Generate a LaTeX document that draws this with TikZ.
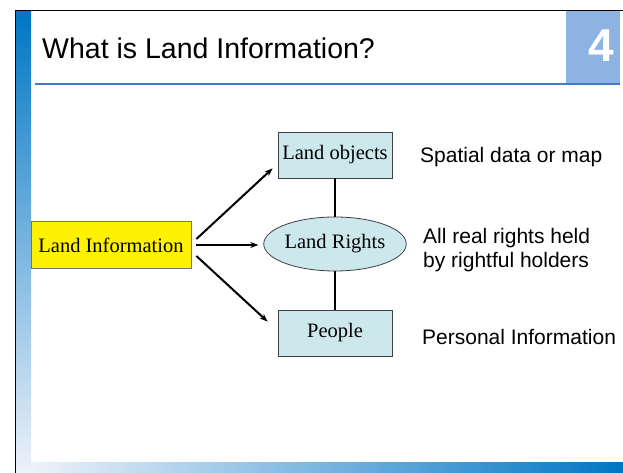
\documentclass[tikz,border=0pt]{standalone}
\usepackage{fontspec}
\setmainfont{Liberation Serif}
\setsansfont{Liberation Sans}
\usetikzlibrary{shapes.geometric,arrows.meta}
\definecolor{barblue}{RGB}{0,118,196}
\definecolor{barlight}{RGB}{238,242,250}
\definecolor{linebl}{RGB}{70,120,200}
\definecolor{numbox}{RGB}{141,179,226}
\definecolor{boxfill}{RGB}{204,232,236}
\tikzset{
  box/.style={draw=black!75, line width=0.8pt, fill=boxfill, inner sep=0pt,
    minimum width=114pt, minimum height=46pt, font=\fontsize{20.5}{24}\selectfont},
  lirbox/.style={draw=black!55, line width=0.8pt, fill=yellow, inner sep=0pt,
    minimum width=160pt, minimum height=47pt, font=\fontsize{20.5}{24}\selectfont},
  ell/.style={ellipse, draw=black!75, line width=0.8pt, fill=boxfill, inner sep=0pt,
    minimum width=124pt, minimum height=54pt, font=\fontsize{20.5}{24}\selectfont},
  sidetext/.style={anchor=west, inner sep=0pt, align=left,
    font=\sffamily\fontsize{21}{24}\selectfont},
  arr/.style={line width=2pt, -{Stealth[length=8pt,width=6pt]}},
  link/.style={line width=2pt}
}
\begin{document}
\begin{tikzpicture}[x=1pt,y=1pt]
\useasboundingbox (0,0) rectangle (623,473);
\fill[white] (0,0) rectangle (623,473);
% left gradient bar
\shade[top color=barblue, bottom color=barlight] (15.5,0) rectangle (31,461.5);
% bottom gradient bar
\shade[left color=barlight, right color=barblue] (31,0) rectangle (623,10);
% frame lines
\draw[line width=1pt, black] (15,0) -- (15,462) -- (623,462);
% number box
\fill[numbox] (566,390) rectangle (620,461.5);
\node[font=\sffamily\bfseries\fontsize{46}{46}\selectfont, text=white, inner sep=0pt] (num) at (601,427) {4};
% title
\node[anchor=base west, inner sep=0pt, font=\sffamily\fontsize{28.5}{30}\selectfont] (title) at (42,414) {What is Land Information?};
\draw[linebl, line width=1.5pt] (35,389) -- (620,389);
% diagram nodes
\node[lirbox] (li) at (111,228) {Land Information};
\node[box] (lo) at (335,318) {Land objects};
\node[ell] (lr) at (335,229) {Land Rights};
\node[box] (pe) at (335,140) {People};
% connectors
\draw[arr] ([xshift=5pt,yshift=6pt]li.east) -- ([xshift=-5pt,yshift=10pt]lo.south west);
\draw[arr] ([xshift=5pt]li.east) -- ([xshift=-5pt,yshift=-1pt]lr.west);
\draw[arr] ([xshift=5pt,yshift=-11pt]li.east) -- ([xshift=-10pt,yshift=-12pt]pe.north west);
\draw[link] (lo.south) -- (lr.north);
\draw[link] (lr.south) -- (pe.north);
% side texts
\node[sidetext] (t1) at (420,316) {Spatial data or map};
\node[sidetext] (t2) at (423,223) {All real rights held\\by rightful holders};
\node[sidetext] (t3) at (422,136) {Personal Information};
\end{tikzpicture}
\end{document}
